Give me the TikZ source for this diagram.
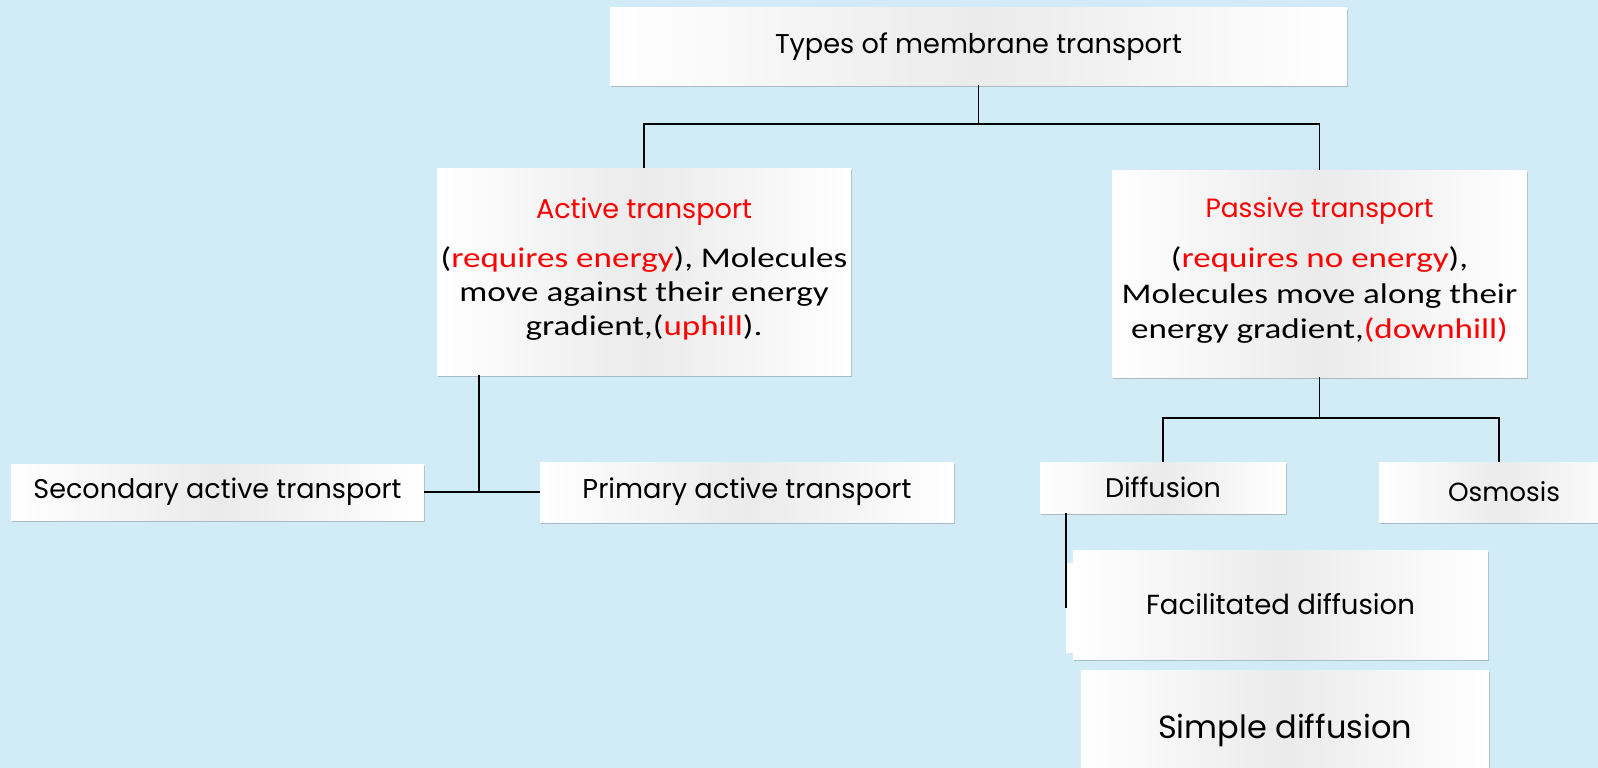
\documentclass[tikz,border=0pt]{standalone}
\usepackage{fontspec}
\setmainfont{Carlito}
\newfontfamily\tw{Poppins}
\usetikzlibrary{shadows}
\definecolor{bg}{RGB}{209,236,247}
\definecolor{tred}{RGB}{255,0,0}
\newcommand{\fitw}[2]{\resizebox{#1}{!}{#2}}
\newcommand{\wide}[1]{\scalebox{1.23}[1]{\begin{tabular}[t]{@{}c@{}}#1\end{tabular}}}
\tikzset{
  box/.style={left color=white, right color=white, middle color=black!8,
    drop shadow={shadow xshift=1.2pt, shadow yshift=-2.2pt, fill=black!70, opacity=0.3},
    inner sep=0pt, align=center},
  conn/.style={draw=black, line width=1.5pt}
}
\begin{document}
\begin{tikzpicture}[x=1pt,y=-1pt]
\clip (0,0) rectangle (1598,768);
\fill[bg] (0,0) rectangle (1598,768);

\node[box, minimum width=737pt, minimum height=77pt] (top) at (978.5,46.5)
  {\fitw{407pt}{\tw Types of membrane transport}};

\node[box, font=\fontsize{28.5}{33.6}\selectfont, minimum width=414pt, minimum height=207pt] (act) at (644,271.5)
  {{\color{tred}\fitw{216pt}{\tw Active transport}}\\[16pt]
   \wide{(\textcolor{tred}{requires energy}), Molecules\\
   move against their energy\\
   gradient,(\textcolor{tred}{uphill}).}};

\node[box, font=\fontsize{28.5}{35.5}\selectfont, minimum width=415pt, minimum height=207pt] (pas) at (1319.5,273.5)
  {{\color{tred}\fitw{228pt}{\tw Passive transport}}\\[14.5pt]
   \wide{(\textcolor{tred}{requires no energy}),\\
   Molecules move along their\\
   energy gradient,\textcolor{tred}{(downhill)}}};

\node[box, minimum width=413pt, minimum height=56pt] (sec) at (217.5,492)
  {\fitw{368pt}{\tw Secondary active transport}};
\node[box, minimum width=414pt, minimum height=60pt] (prim) at (747,492)
  {\fitw{329pt}{\tw Primary active transport}};

\node[box, minimum width=246pt, minimum height=51pt] (diff) at (1163,487.5)
  {\fitw{116pt}{\tw Diffusion}};
\node[box, minimum width=250pt, minimum height=60pt] (osm) at (1504,492)
  {\fitw{112pt}{\tw Osmosis}};

\fill[white] (1066,563) rectangle (1074,653);
\node[box, minimum width=415pt, minimum height=109pt] (fac) at (1280.5,604.5)
  {\fitw{269pt}{\tw Facilitated diffusion}};
\node[box, minimum width=408pt, minimum height=120pt] (sim) at (1285,730)
  {\raisebox{2pt}{\fitw{254pt}{\tw Simple diffusion}}};

\coordinate (j1) at (978.5,124);
\draw[conn] (top.south) -- (j1);
\draw[conn] (act.north) |- (j1) -| (pas.north);

\coordinate (j2) at (479,492);
\draw[conn] (act.south -| j2) -- (j2);
\draw[conn] (sec.east) -- (prim.west);

\coordinate (j3) at (1319.5,418);
\coordinate (j5) at (1499,418);
\draw[conn] (pas.south) -- (j3);
\draw[conn] (diff.north) |- (j5) -- (osm.north -| j5);

\coordinate (j4) at (1066,608);
\draw[conn] (diff.south -| j4) -- (j4);
\end{tikzpicture}
\end{document}
